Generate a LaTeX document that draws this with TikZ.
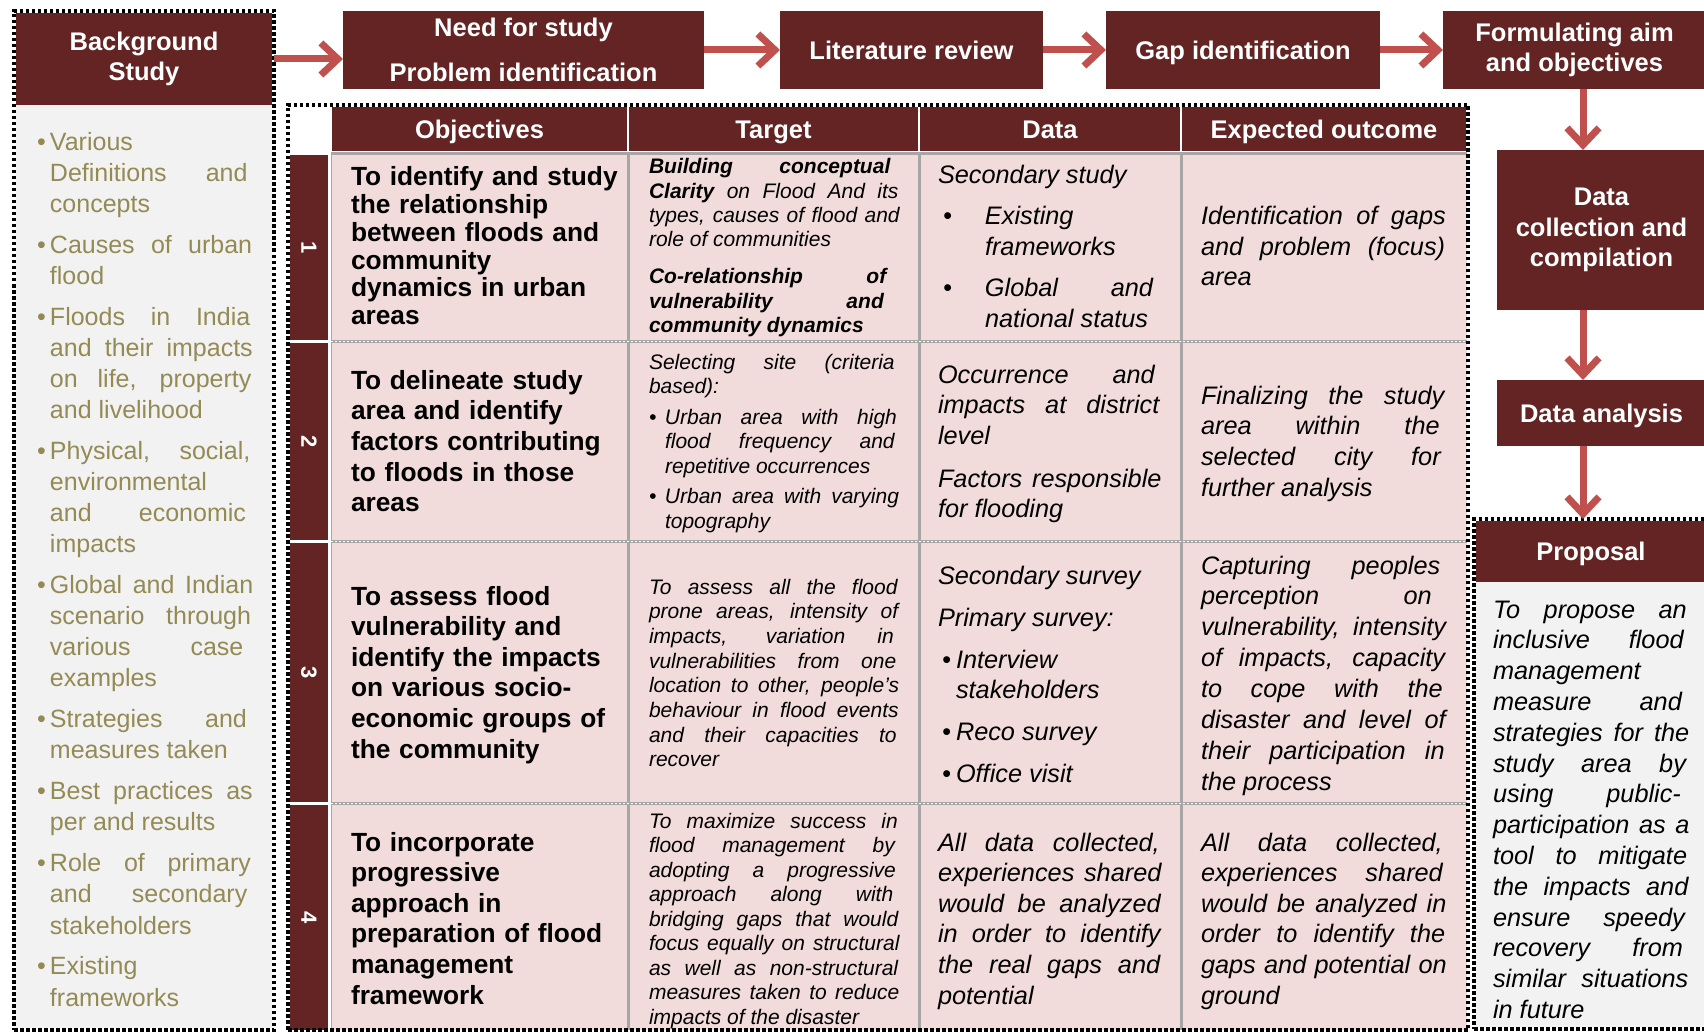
\documentclass[tikz,border=0pt]{standalone}
\usepackage{fontspec}
\setmainfont{Liberation Sans}
\usetikzlibrary{arrows.meta}

\definecolor{darkred}{HTML}{632423}
\definecolor{arrowred}{HTML}{C0504D}
\definecolor{cellpink}{HTML}{F2DCDB}
\definecolor{panelgray}{HTML}{F2F2F2}
\definecolor{tantext}{HTML}{948A54}
\definecolor{rulegray}{HTML}{A6A6A6}

% font size / line spacing in points
\newcommand\setfs[2]{\fontsize{#1pt}{#2pt}\selectfont}
% justified cells with fixed line breaks
\newcommand\justset{\parindent=0pt\tolerance=10000\hbadness=10000\hyphenpenalty=10000\exhyphenpenalty=10000\spaceskip=.278em plus 4em minus .1em\xspaceskip=\spaceskip\relax}
% slightly wider word spacing for the bold objectives
\newcommand\objset{\spaceskip=.33em\xspaceskip=\spaceskip\relax}
% bullet paragraph: [bullet offset]{hanging indent}{text}
\newcommand\bitem[3][0pt]{\noindent\hangindent=#2\hangafter=1\makebox[#2][l]{\hspace{#1}\textbullet}#3\par}

\tikzset{
  every node/.style={inner sep=0pt, outer sep=0pt},
  flowbox/.style={fill=darkred, text=white, align=center, font=\bfseries\setfs{25.5}{30.5}},
  oneline/.style={text height=18.5pt, text depth=0pt},
  hdrcell/.style={fill=darkred, draw=white, line width=1.5pt, text=white, font=\bfseries\setfs{25.5}{30.5}, oneline},
  numcell/.style={fill=darkred, text=white, rotate=-90, font=\bfseries\setfs{22}{22}},
  dotframe/.style={draw=black, line width=3.5pt, dash pattern=on 3.5pt off 2.5pt},
  flow/.style={draw=arrowred, line width=7pt, -{Straight Barb[length=17pt,width=32pt]}},
  celltext/.style={anchor=base west, text width=#1},
  objtext/.style={anchor=base west, text width=278pt, align=left, font=\bfseries},
  rulex/.style={draw=rulegray, line width=3pt},
}

\begin{document}
\begin{tikzpicture}[x=1pt, y=-1pt]
\path[use as bounding box] (0,0) rectangle (1704,1032);
\clip (0,0) rectangle (1704,1032);
\fill[white] (0,0) rectangle (1704,1032);

% ---------- background study panel ----------
\fill[panelgray] (16,105) rectangle (272,1028);
\node[flowbox, minimum width=256pt, minimum height=92pt] (bghead) at (144,59) {Background\\Study};
\node[celltext=217pt, text=tantext] (bglist) at (37,151) {\setfs{25}{31}\justset\parskip=10pt
\bitem{13pt}{Various\linebreak Definitions and\linebreak concepts}
\bitem{13pt}{Causes of urban\linebreak flood}
\bitem{13pt}{Floods in India\linebreak and their impacts\linebreak on life, property\linebreak and livelihood}
\bitem{13pt}{Physical, social,\linebreak environmental\linebreak and economic\linebreak impacts}
\bitem{13pt}{Global and Indian\linebreak scenario through\linebreak various case\linebreak examples}
\bitem{13pt}{Strategies and\linebreak measures taken}
\bitem{13pt}{Best practices as\linebreak per and results}
\bitem{13pt}{Role of primary\linebreak and secondary\linebreak stakeholders}
\bitem{13pt}{Existing\linebreak frameworks}};

% ---------- process boxes ----------
\node[flowbox, minimum width=361pt, minimum height=78pt] (need) at (523.5,50) {Need for study\\[14pt]Problem identification};
\node[flowbox, oneline, minimum width=263pt, minimum height=78pt] (lit) at (911.5,50) {Literature review};
\node[flowbox, oneline, minimum width=274pt, minimum height=78pt] (gap) at (1243,50) {Gap identification};
\node[flowbox, minimum width=263pt, minimum height=78pt] (form) at (1574.5,50) {Formulating aim\\and objectives};
\node[flowbox, minimum width=209pt, minimum height=160pt] (dcoll) at (1601.5,230) {Data\\collection and\\compilation};
\node[flowbox, oneline, minimum width=209pt, minimum height=66pt] (da) at (1601.5,413) {Data analysis};

% ---------- proposal ----------
\fill[panelgray] (1476,582) rectangle (1706,1027);
\node[flowbox, oneline, minimum width=230pt, minimum height=61pt] (prophead) at (1591,551.5) {Proposal};
\node[celltext=197pt] (proptext) at (1493,618) {\setfs{25.3}{30.8}\itshape\justset
To propose an\linebreak inclusive flood\linebreak management\linebreak measure and\linebreak strategies for the\linebreak study area by\linebreak using public-\linebreak participation as a\linebreak tool to mitigate\linebreak the impacts and\linebreak ensure speedy\linebreak recovery from\linebreak similar situations\linebreak in future\par};

% ---------- objectives table ----------
\fill[cellpink] (331,153) rectangle (1467,1030);
\node[hdrcell, minimum width=297pt, minimum height=46pt] (hobj) at (479.5,129) {Objectives};
\node[hdrcell, minimum width=291pt, minimum height=46pt] (htgt) at (773.5,129) {Target};
\node[hdrcell, minimum width=262pt, minimum height=46pt] (hdata) at (1050,129) {Data};
\node[hdrcell, minimum width=286pt, minimum height=46pt] (hexp) at (1324,129) {Expected outcome};

\node[numcell, minimum width=185pt, minimum height=38pt] (n1) at (309,247.5) {1};
\node[numcell, minimum width=197pt, minimum height=38pt] (n2) at (309,441.5) {2};
\node[numcell, minimum width=259pt, minimum height=38pt] (n3) at (309,672.5) {3};
\node[numcell, minimum width=225pt, minimum height=38pt] (n4) at (309,917.5) {4};

\draw[rulex] (331,153.5) -- (1467,153.5);
\draw[rulegray, line width=1.5pt] (331.5,153) -- (331.5,1030);
\foreach \x in {628,919,1181} \draw[rulex] (\x,152) -- (\x,1030);
\foreach \y in {341.5,541.5,803.5} {
  \draw[rulex] (331,\y) -- (1467,\y);
  \draw[white, line width=0.8pt, dash pattern=on 2pt off 2pt] (331,\y) -- (1467,\y);
}

% row 1
\node[objtext] (o1) at (351,186) {\setfs{26.3}{27.7}\objset To identify and study\\the relationship\\between floods and\\community\\dynamics in urban\\areas\par};
\node[celltext=251pt] (t1) at (649,174) {\setfs{21}{24.3}\itshape\justset\parskip=12.7pt
\textbf{Building conceptual}\linebreak \textbf{Clarity} on Flood And its\linebreak types, causes of flood and\linebreak role of communities\par
\textbf{Co-relationship of}\linebreak \textbf{vulnerability and}\linebreak \textbf{community dynamics}\par};
\node[celltext=224pt] (d1) at (938,184) {\setfs{25.3}{31}\itshape\justset\parskip=10pt
Secondary study\par
\bitem[5pt]{47pt}{Existing\linebreak frameworks}
\bitem[5pt]{47pt}{Global and\linebreak national status}};
\node[celltext=246pt] (e1) at (1201,225) {\setfs{25.3}{30.5}\itshape\justset
Identification of gaps\linebreak and problem (focus)\linebreak area\par};

% row 2
\node[objtext] (o2) at (351,389) {\setfs{26.3}{30.7}\objset To delineate study\\area and identify\\factors contributing\\to floods in those\\areas\par};
\node[celltext=251pt] (t2) at (649,369) {\setfs{21}{24.5}\itshape\justset\parskip=6pt
Selecting site (criteria\linebreak based):\par
\bitem{16pt}{Urban area with high\linebreak flood frequency and\linebreak repetitive occurrences}
\bitem{16pt}{Urban area with varying\linebreak topography}};
\node[celltext=224pt] (d2) at (938,383) {\setfs{25.3}{30.5}\itshape\justset\parskip=12.5pt
Occurrence and\linebreak impacts at district\linebreak level\par
Factors responsible\linebreak for flooding\par};
\node[celltext=246pt] (e2) at (1201,404) {\setfs{25.3}{30.7}\itshape\justset
Finalizing the study\linebreak area within the\linebreak selected city for\linebreak further analysis\par};

% row 3
\node[objtext] (o3) at (351,605) {\setfs{26.3}{30.6}\objset To assess flood\\vulnerability and\\identify the impacts\\on various socio-\\economic groups of\\the community\par};
\node[celltext=251pt] (t3) at (649,594) {\setfs{21}{24.7}\itshape\justset
To assess all the flood\linebreak prone areas, intensity of\linebreak impacts, variation in\linebreak vulnerabilities from one\linebreak location to other, people’s\linebreak behaviour in flood events\linebreak and their capacities to\linebreak recover\par};
\node[celltext=224pt] (d3) at (938,584) {\setfs{25.3}{30.5}\itshape\justset\parskip=11.5pt
Secondary survey\par
Primary survey:\par
\bitem[4pt]{18pt}{Interview\linebreak stakeholders}
\bitem[4pt]{18pt}{Reco survey}
\bitem[4pt]{18pt}{Office visit}};
\node[celltext=246pt] (e3) at (1201,574) {\setfs{25.3}{30.9}\itshape\justset
Capturing peoples\linebreak perception on\linebreak vulnerability, intensity\linebreak of impacts, capacity\linebreak to cope with the\linebreak disaster and level of\linebreak their participation in\linebreak the process\par};

% row 4
\node[objtext] (o4) at (351,851) {\setfs{26.3}{30.6}\objset To incorporate\\progressive\\approach in\\preparation of flood\\management\\framework\par};
\node[celltext=251pt] (t4) at (649,828) {\setfs{21}{24.5}\itshape\justset
To maximize success in\linebreak flood management by\linebreak adopting a progressive\linebreak approach along with\linebreak bridging gaps that would\linebreak focus equally on structural\linebreak as well as non-structural\linebreak measures taken to reduce\linebreak impacts of the disaster\par};
\node[celltext=224pt] (d4) at (938,851) {\setfs{25.3}{30.6}\itshape\justset
All data collected,\linebreak experiences shared\linebreak would be analyzed\linebreak in order to identify\linebreak the real gaps and\linebreak potential\par};
\node[celltext=246pt] (e4) at (1201,851) {\setfs{25.3}{30.6}\itshape\justset
All data collected,\linebreak experiences shared\linebreak would be analyzed in\linebreak order to identify the\linebreak gaps and potential on\linebreak ground\par};

% ---------- dotted frames ----------
\node[dotframe, minimum width=260pt, minimum height=1019pt] (bgframe) at (144,520.5) {};
\node[dotframe, minimum width=1180pt, minimum height=925pt] (tblframe) at (878,567.5) {};
\node[dotframe, minimum width=232pt, minimum height=510pt] (propframe) at (1590,774) {};

% ---------- flow arrows ----------
\coordinate (ax) at (1583,0);
\draw[flow] (bghead.east -| bgframe.east) -- (bghead.east -| need.west);
\draw[flow] (need.east) -- (lit.west);
\draw[flow] (lit.east) -- (gap.west);
\draw[flow] (gap.east) -- (form.west);
\draw[flow] (form.south -| ax) -- (dcoll.north -| ax);
\draw[flow] (dcoll.south -| ax) -- (da.north -| ax);
\draw[flow] (da.south -| ax) -- (propframe.north -| ax);
\end{tikzpicture}
\end{document}
